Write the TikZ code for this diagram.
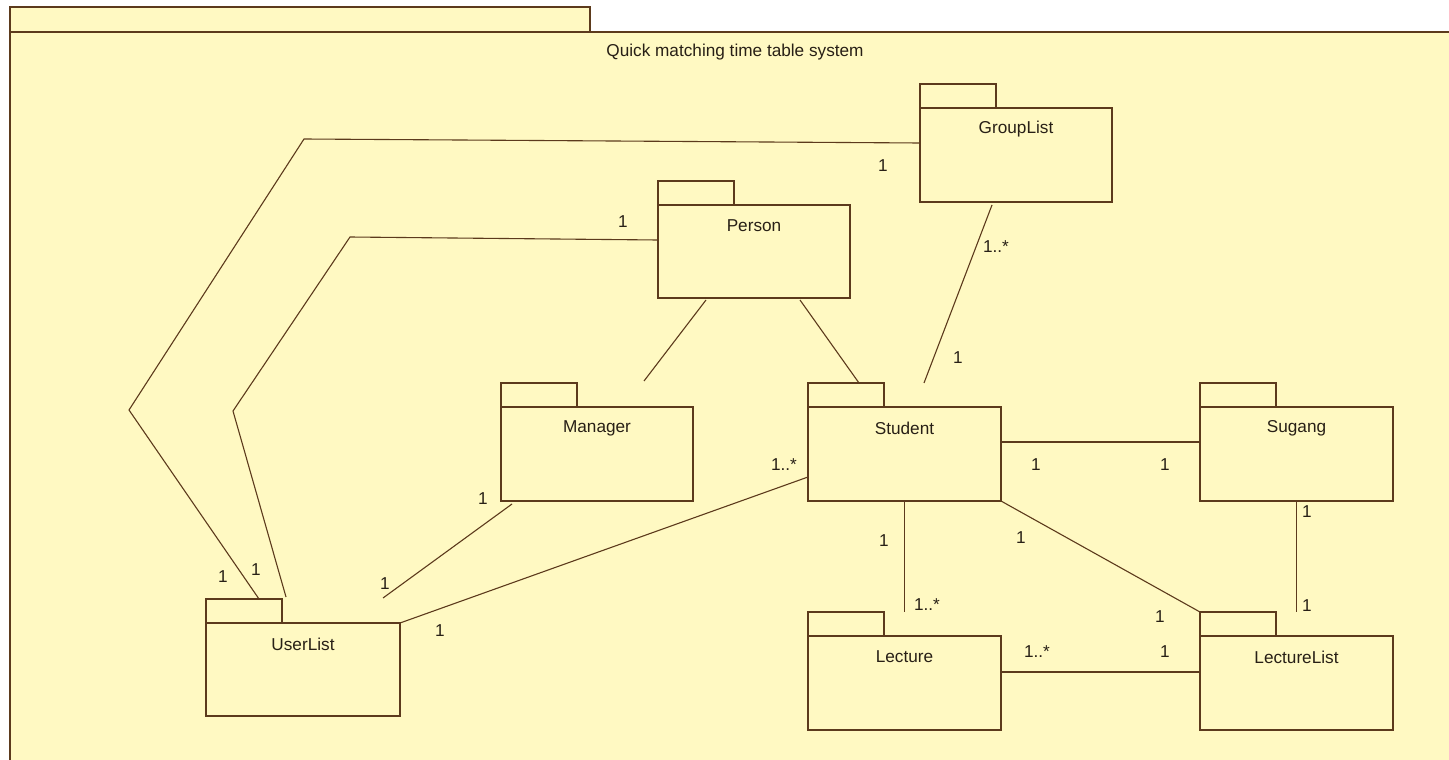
\documentclass[tikz,border=0pt]{standalone}
\usepackage{fontspec}
\setmainfont{Liberation Sans}
\definecolor{umlfill}{RGB}{255,249,194}
\definecolor{umlline}{RGB}{92,58,28}
\definecolor{umltext}{RGB}{40,32,22}
\tikzset{
  pkgbody/.style={draw=umlline, fill=umlfill, line width=1.8pt, rectangle, inner sep=0pt, outer sep=0pt},
  pkgtab/.style={draw=umlline, fill=umlfill, line width=1.8pt, rectangle, inner sep=0pt, outer sep=0pt, minimum width=76pt, minimum height=24pt},
  pkglabel/.style={text=umltext, font=\fontsize{17.2}{20}\selectfont, inner sep=0pt},
  mult/.style={text=umltext, font=\fontsize{17.2}{20}\selectfont, inner sep=0pt},
  conn/.style={draw=umlline, line width=1.1pt},
  frameline/.style={draw=umlline, fill=umlfill, line width=1.8pt}
}
\newcommand\pkgbox[6]{%
  \node[pkgtab, anchor=south west] (#1-tab) at (#2,#3) {};
  \node[pkgbody, minimum width=#4pt, minimum height=#5pt, anchor=north west] (#1) at (#2,#3) {};
  \node[pkglabel] (#1-lbl) at ([yshift=-21pt]#1.north) {#6};
}
\begin{document}
\begin{tikzpicture}[x=1pt,y=-1pt]
\useasboundingbox (0,0) rectangle (1449,760);
\fill[white] (0,0) rectangle (1449,760);
\clip (0,0) rectangle (1449,760);
% outer frame
\path[frameline] (10,7) rectangle (590,32);
\path[frameline] (10,32) rectangle (1465,775);
\node[pkglabel] (title) at (735,52) {Quick matching time table system};

% packages
\pkgbox{GroupList}{920}{108}{192}{94}{GroupList}
\pkgbox{Person}{658}{205}{192}{93}{Person}
\pkgbox{Manager}{501}{407}{192}{94}{Manager}
\pkgbox{UserList}{206}{623}{194}{93}{UserList}
\pkgbox{Student}{808}{407}{193}{94}{Student}
\pkgbox{Sugang}{1200}{407}{193}{94}{Sugang}
\pkgbox{Lecture}{808}{636}{193}{94}{Lecture}
\pkgbox{LectureList}{1200}{636}{193}{94}{LectureList}

% bend points and free ends
\coordinate (a1) at (129,410);
\coordinate (a2) at (304,139);
\coordinate (a3) at (460,140);
\coordinate (u2) at (286,597);
\coordinate (b1) at (233,411);
\coordinate (b2) at (350,237);
\coordinate (m1) at (383,598);
\coordinate (p1) at (644,381);
\coordinate (g1) at (924,383);

% connectors
\draw[conn] ([xshift=53pt]UserList-tab.north west) -- (a1) -- (a2) -- (a3) -- ([yshift=-35pt]GroupList.north west);
\draw[conn] (u2) -- (b1) -- (b2) -- ([yshift=-35pt]Person.north west);
\draw[conn] ([xshift=11pt,yshift=-3pt]Manager.south west) -- (m1);
\draw[conn] (UserList.north east) -- ([yshift=-70pt]Student.north west);
\draw[conn] ([xshift=48pt,yshift=-2pt]Person.south west) -- (p1);
\draw[conn] ([xshift=142pt,yshift=-2pt]Person.south west) -- ([xshift=51pt]Student-tab.north west);
\draw[conn] ([xshift=72pt,yshift=-3pt]GroupList.south west) -- (g1);
\draw[conn] ([yshift=-35pt]Student.north east) -- ([yshift=-35pt]Sugang.north west);
\draw[conn] (Student.south) -- (Student.south |- Lecture-tab.north);
\draw[conn] (Student.south east) -- (LectureList-tab.north west);
\draw[conn] (Sugang.south) -- (Sugang.south |- LectureList-tab.north);
\draw[conn] ([yshift=-36pt]Lecture.north east) -- ([yshift=-36pt]LectureList.north west);

% multiplicities
\node[mult] (m-ug1) at (883,166) {1};
\node[mult] (m-ug2) at (223,577) {1};
\node[mult] (m-up1) at (623,222) {1};
\node[mult] (m-up2) at (256,570) {1};
\node[mult] (m-mu1) at (483,499) {1};
\node[mult] (m-mu2) at (385,584) {1};
\node[mult] (m-su1) at (784,465) {1..*};
\node[mult] (m-su2) at (440,631) {1};
\node[mult] (m-gs1) at (996,247) {1..*};
\node[mult] (m-gs2) at (958,358) {1};
\node[mult] (m-ss1) at (1036,465) {1};
\node[mult] (m-ss2) at (1165,465) {1};
\node[mult] (m-sl1) at (884,541) {1};
\node[mult] (m-sl2) at (927,605) {1..*};
\node[mult] (m-sll1) at (1021,538) {1};
\node[mult] (m-sll2) at (1160,617) {1};
\node[mult] (m-sgl1) at (1307,512) {1};
\node[mult] (m-sgl2) at (1307,606) {1};
\node[mult] (m-ll1) at (1037,652) {1..*};
\node[mult] (m-ll2) at (1165,652) {1};
\end{tikzpicture}
\end{document}
